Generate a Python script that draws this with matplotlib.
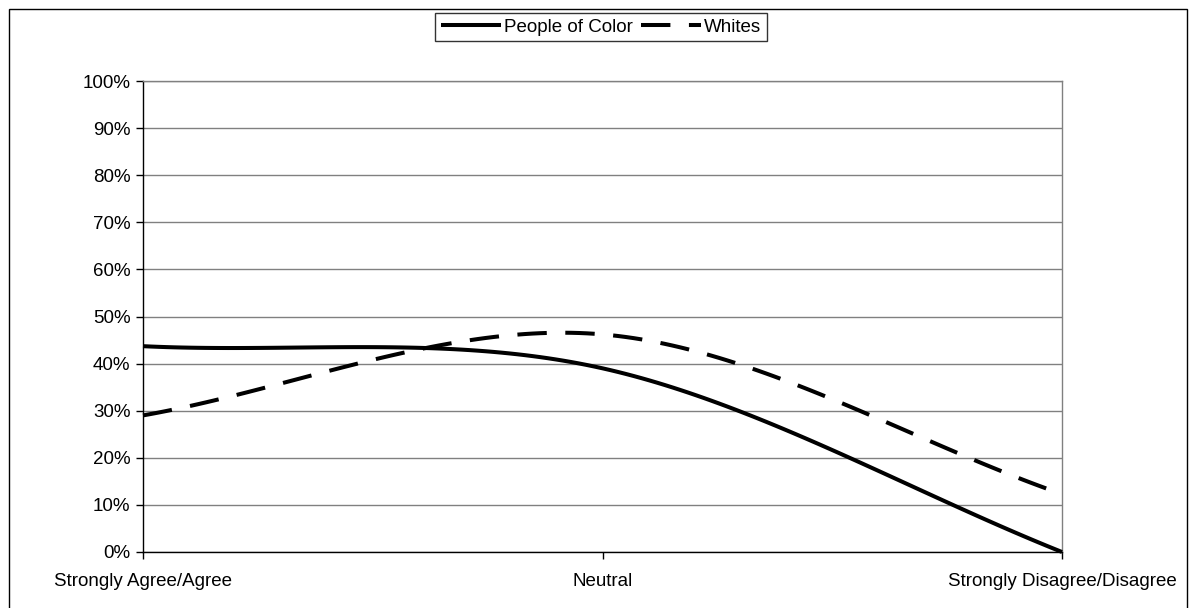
import matplotlib.pyplot as plt
import matplotlib.patches as mpatches
import numpy as np

plt.rcParams['font.family'] = ['Liberation Sans', 'DejaVu Sans']

categories = ['Strongly Agree/Agree', 'Neutral', 'Strongly Disagree/Disagree']
people_of_color = [43.7, 39.0, 0.0]
whites = [29.0, 46.2, 12.3]


def excel_smooth(xs, ys, n=60):
    # bezier smoothing like excel's "smoothed line"
    p = np.column_stack([xs, ys]).astype(float)
    out = []
    last = len(p) - 1
    for i in range(last):
        if i == 0:
            c1 = p[i] + (p[i + 1] - p[i]) / 3
        else:
            c1 = p[i] + (p[i + 1] - p[i - 1]) / 6
        if i + 1 == last:
            c2 = p[i + 1] - (p[i + 1] - p[i]) / 3
        else:
            c2 = p[i + 1] - (p[i + 2] - p[i]) / 6
        t = np.linspace(0, 1, n)[:, None]
        seg = ((1 - t) ** 3 * p[i] + 3 * (1 - t) ** 2 * t * c1
               + 3 * (1 - t) * t ** 2 * c2 + t ** 3 * p[i + 1])
        out.append(seg if i == 0 else seg[1:])
    out = np.vstack(out)
    return out[:, 0], out[:, 1]


fig = plt.figure(figsize=(11.94, 6.08), dpi=100)
ax = fig.add_axes([143 / 1194, 1 - 552 / 608, (1062 - 143) / 1194, (552 - 81) / 608])

# outer chart border
fig.patches.append(mpatches.Rectangle((9 / 1194, -0.05), (1187 - 9) / 1194, 1.05 - 9 / 608,
                                      transform=fig.transFigure, fill=False,
                                      edgecolor='black', linewidth=1.0))

x = np.arange(len(categories))
sx, sy = excel_smooth(x, people_of_color)
ax.plot(sx, sy, color='black', lw=2.9, label='People of Color', clip_on=False,
        solid_capstyle='butt', zorder=3)
sx, sy = excel_smooth(x, whites)
ax.plot(sx, sy, color='black', lw=2.9, dashes=(7.3, 4.6), label='Whites', clip_on=False,
        dash_capstyle='butt', zorder=3)

ax.set_xlim(0, 2)
ax.set_ylim(0, 100)
ax.set_yticks(np.arange(0, 101, 10))
ax.set_yticklabels([f'{v}%' for v in range(0, 101, 10)], fontsize=13.5)
ax.set_xticks(x)
ax.set_xticklabels(categories, fontsize=13.5)
ax.yaxis.grid(True, color='#808080', lw=1.0)
ax.set_axisbelow(True)
ax.tick_params(axis='y', length=5, width=1, pad=4, color='black')
ax.tick_params(axis='x', length=5, width=1, pad=10, color='black')
ax.spines['left'].set_color('black')
ax.spines['bottom'].set_color('black')
ax.spines['top'].set_color('#808080')
ax.spines['right'].set_color('#808080')
for s in ax.spines.values():
    s.set_linewidth(1.0)

leg = fig.legend(loc='center', bbox_to_anchor=(601 / 1194, 1 - 27 / 608), ncol=2,
                 fontsize=13.5, frameon=True, fancybox=False, edgecolor='black',
                 handlelength=3.2, handletextpad=0.15, columnspacing=0.45,
                 borderpad=0.3, borderaxespad=0)
leg.get_frame().set_linewidth(1.0)

fig.savefig('out.png', dpi=100, facecolor='white')
